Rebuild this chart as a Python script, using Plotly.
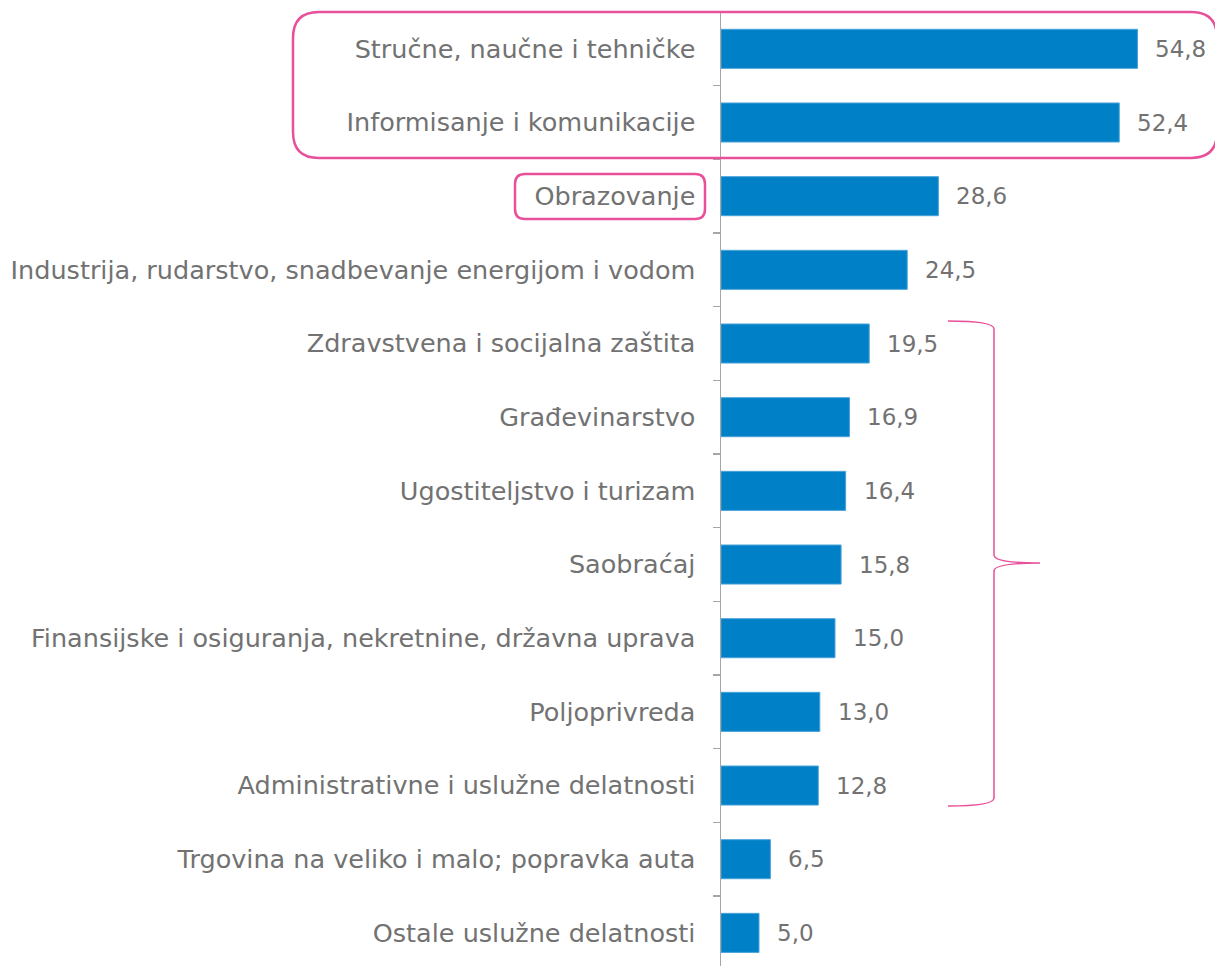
import plotly.graph_objects as go

categories = [
    "Stručne, naučne i tehničke",
    "Informisanje i komunikacije",
    "Obrazovanje",
    "Industrija, rudarstvo, snadbevanje energijom i vodom",
    "Zdravstvena i socijalna zaštita",
    "Građevinarstvo",
    "Ugostiteljstvo i turizam",
    "Saobraćaj",
    "Finansijske i osiguranja, nekretnine, državna uprava",
    "Poljoprivreda",
    "Administrativne i uslužne delatnosti",
    "Trgovina na veliko i malo; popravka auta",
    "Ostale uslužne delatnosti",
]
values = [54.8, 52.4, 28.6, 24.5, 19.5, 16.9, 16.4, 15.8, 15.0, 13.0, 12.8, 6.5, 5.0]
value_labels = [f"{v:.1f}".replace(".", ",") for v in values]

W, H = 1215, 966
ML, MR, MT, MB = 721, 0, 12, 0
PW, PH = W - ML - MR, H - MT - MB
TEXT = "#727272"
PINK = "#E8509A"
FONT = "DejaVu Sans"

fig = go.Figure()
fig.add_trace(go.Bar(
    y=categories, x=values, orientation="h",
    marker=dict(color="#0080C6", line=dict(color="#4BA3DA", width=1)),
    width=0.53, hoverinfo="skip",
))

for c, v, t in zip(categories, values, value_labels):
    fig.add_annotation(x=v, y=c, text=t, showarrow=False, xanchor="left",
                       xshift=16, font=dict(family=FONT, size=23, color=TEXT))


def px(x):
    return (x - ML) / PW


def py(y):
    return (H - MB - y) / PH


def rounded_rect(x0, y0, x1, y1, r):
    pts = [
        ("M", [(x0 + r, y0)]),
        ("L", [(x1 - r, y0)]),
        ("Q", [(x1, y0), (x1, y0 + r)]),
        ("L", [(x1, y1 - r)]),
        ("Q", [(x1, y1), (x1 - r, y1)]),
        ("L", [(x0 + r, y1)]),
        ("Q", [(x0, y1), (x0, y1 - r)]),
        ("L", [(x0, y0 + r)]),
        ("Q", [(x0, y0), (x0 + r, y0)]),
    ]
    s = ""
    for cmd, ps in pts:
        s += cmd + " ".join(f"{px(a):.5f},{py(b):.5f}" for a, b in ps) + " "
    return s + "Z"


def brace(xl, xm, xt, y0, ym, y1):
    segs = [
        ("M", [(xl, y0)]),
        ("Q", [(xm, y0), (xm, y0 + 8)]),
        ("L", [(xm, ym - 8)]),
        ("Q", [(xm, ym), (xt, ym)]),
        ("M", [(xt, ym)]),
        ("Q", [(xm, ym), (xm, ym + 8)]),
        ("L", [(xm, y1 - 8)]),
        ("Q", [(xm, y1), (xl, y1)]),
    ]
    s = ""
    for cmd, ps in segs:
        s += cmd + " ".join(f"{px(a):.5f},{py(b):.5f}" for a, b in ps) + " "
    return s


fig.add_shape(type="path", xref="paper", yref="paper",
              path=rounded_rect(293, 12, 1217, 158, 26),
              line=dict(color=PINK, width=2.5), layer="above")
fig.add_shape(type="path", xref="paper", yref="paper",
              path=rounded_rect(515, 174, 705, 219, 10),
              line=dict(color=PINK, width=2.5), layer="above")
fig.add_shape(type="path", xref="paper", yref="paper",
              path=brace(948, 994, 1040, 321, 563, 806),
              line=dict(color=PINK, width=1.5), layer="above")

span = PH / 73.67
fig.update_layout(
    width=W, height=H,
    margin=dict(l=ML, r=MR, t=MT, b=MB, pad=0),
    plot_bgcolor="white", paper_bgcolor="white",
    showlegend=False,
    bargap=0.47,
    hovermode=False,
    xaxis=dict(range=[0, PW / 7.6], visible=False, fixedrange=True),
    yaxis=dict(
        type="category",
        range=[span - 0.5, -0.5],
        showline=True, linecolor="#A6A6A6", linewidth=1.5,
        ticks="outside", ticklen=7, tickcolor="#A6A6A6", tickwidth=1.5,
        tickson="boundaries",
        showgrid=False, zeroline=False,
        ticklabelstandoff=19,
        tickfont=dict(family=FONT, size=25.5, color=TEXT),
        fixedrange=True,
    ),
)

fig.write_html(
    "out.html",
    config={"displayModeBar": False, "staticPlot": True},
    post_script="document.body.style.margin='0';document.body.style.overflow='hidden';",
)
